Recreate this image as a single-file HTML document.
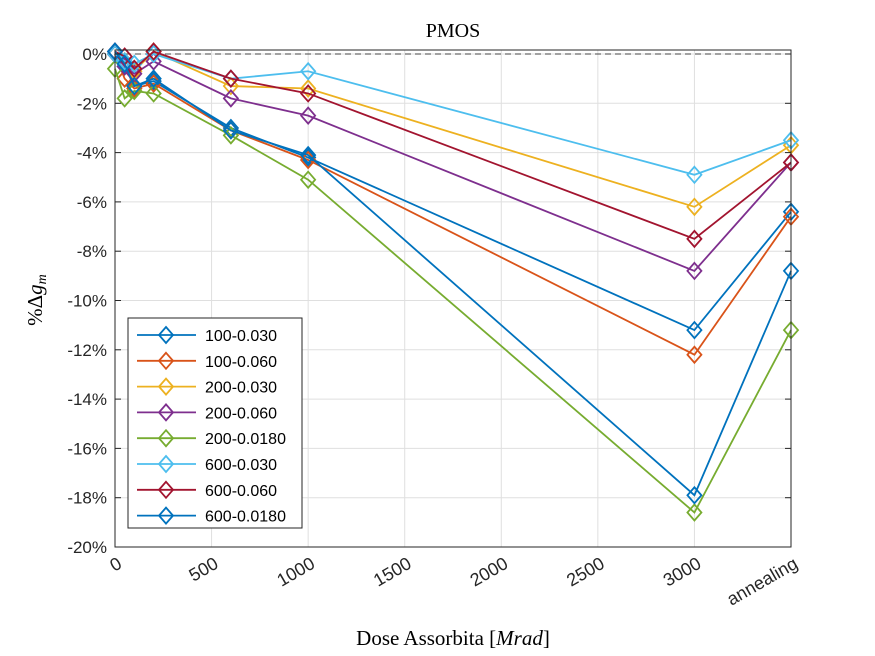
<!DOCTYPE html>
<html><head><meta charset="utf-8"><style>body{margin:0;background:#fff}svg{display:block}</style></head>
<body>
<svg id="chart" width="875" height="656" xmlns="http://www.w3.org/2000/svg" font-family="Liberation Sans, sans-serif">
<rect width="875" height="656" fill="#fff"/>
<g id="grid"></g><g id="series"></g><g id="axes"></g><g id="legend"></g>
<text x="453" y="37" text-anchor="middle" font-family="Liberation Serif, serif" font-size="20">PMOS</text>
<text x="453" y="645" text-anchor="middle" font-family="Liberation Serif, serif" font-size="21">Dose Assorbita [<tspan font-style="italic">Mrad</tspan>]</text>
<text transform="translate(42,300) rotate(-90)" text-anchor="middle" font-family="Liberation Serif, serif" font-size="21">%Δ<tspan font-style="italic">g</tspan><tspan font-style="italic" font-size="14" dy="4">m</tspan></text>
</svg>
<script>
const doses=[0,50,100,200,600,1000,3000,3500];
const names=["100-0.030","100-0.060","200-0.030","200-0.060","200-0.0180","600-0.030","600-0.060","600-0.0180"];
const colors=["#0072bd","#d95319","#edb120","#7e2f8e","#77ac30","#4dbeee","#a2142f","#0072bd"];
const s1=[0,-0.5,-1.3,-1.1,-3.0,-4.2,-11.2,-6.4];
const s2=[0,-1.0,-1.4,-1.2,-3.1,-4.3,-12.2,-6.6];
const s3=[0,-0.3,-0.7,0.1,-1.3,-1.4,-6.2,-3.7];
const s4=[0,-0.5,-0.8,-0.3,-1.8,-2.5,-8.8,-4.4];
const s5=[-0.6,-1.8,-1.5,-1.6,-3.3,-5.1,-18.6,-11.2];
const s6=[0,-0.3,-0.4,0.0,-1.0,-0.7,-4.9,-3.5];
const s7=[0.1,-0.1,-0.6,0.1,-1.0,-1.6,-7.5,-4.4];
const s8=[0.1,-0.4,-1.3,-1.0,-3.1,-4.1,-17.9,-8.8];
const series=[s1,s2,s3,s4,s5,s6,s7,s8];
const xTicks=[0,500,1000,1500,2000,2500,3000,3500];
const xTickLabels=["0","500","1000","1500","2000","2500","3000","annealing"];
const yTicks=[0,-2,-4,-6,-8,-10,-12,-14,-16,-18,-20];
const X0=115,X1=791,Y0=54,Y1=547;
const xs=v=>X0+(v/3500)*(X1-X0);
const ys=v=>Y0+(-v/20)*(Y1-Y0);
const NS="http://www.w3.org/2000/svg";
function mk(t,a,p){const e=document.createElementNS(NS,t);for(const k in a)e.setAttribute(k,a[k]);p.appendChild(e);return e;}
const grid=document.getElementById('grid'),axes=document.getElementById('axes'),ser=document.getElementById('series'),leg=document.getElementById('legend');
xTicks.forEach((t,i)=>{
 const gl=mk('line',{x1:xs(t),x2:xs(t),y1:Y0-4,y2:Y1,stroke:'#dfdfdf','stroke-width':1},grid);
 
 const x=xs(t);
 const tx=mk('text',{x:0,y:0,'text-anchor':'end','font-size':18,fill:'#262626',transform:`translate(${x+8},${Y1+20}) rotate(-30)`},axes);
 
 tx.textContent=xTickLabels[i];
});
yTicks.forEach(t=>{
 const gl=mk('line',{x1:X0,x2:X1,y1:ys(t),y2:ys(t),stroke:'#dfdfdf','stroke-width':1},grid);
 
 const tx=mk('text',{x:X0-8,y:ys(t)+6,'text-anchor':'end','font-size':17,fill:'#262626'},axes);
 
 tx.textContent=t+'%';
 mk('line',{x1:X0,x2:X0+6,y1:ys(t),y2:ys(t),stroke:'#262626'},axes);
 mk('line',{x1:X1,x2:X1-6,y1:ys(t),y2:ys(t),stroke:'#262626'},axes);
});
const ref=mk('line',{x1:X0,x2:X1,y1:ys(0),y2:ys(0),stroke:'#444','stroke-dasharray':'6,4'},grid);

const box=mk('rect',{x:X0,y:Y0-4,width:X1-X0,height:Y1-Y0+4,fill:'none',stroke:'#262626','stroke-width':1},axes);

function dia(x,y,c,p){const d=mk('path',{d:`M${x} ${y-8}L${x+7} ${y}L${x} ${y+8}L${x-7} ${y}Z`,fill:'none',stroke:c,'stroke-width':1.8},p);return d;}
series.forEach((s,i)=>{
 const g=mk('g',{},ser);
 
 const pl=mk('polyline',{points:s.map((v,j)=>xs(doses[j])+','+ys(v)).join(' '),fill:'none',stroke:colors[i],'stroke-width':1.8},g);
 
 s.forEach((v,j)=>{const d=dia(xs(doses[j]),ys(v),colors[i],g);
  });
});
const lb=mk('rect',{x:128,y:318,width:174,height:210,fill:'#fff',stroke:'#262626'},leg);

names.forEach((n,i)=>{
 const y=335+i*25.8;
 const g=mk('g',{},leg);
 
 mk('line',{x1:137,x2:196,y1:y,y2:y,stroke:colors[i],'stroke-width':1.8},g);
 dia(166,y,colors[i],g);
 const t=mk('text',{x:205,y:y+6,'font-size':16,fill:'#000'},g);
 t.textContent=n;
});
</script>
</body></html>
